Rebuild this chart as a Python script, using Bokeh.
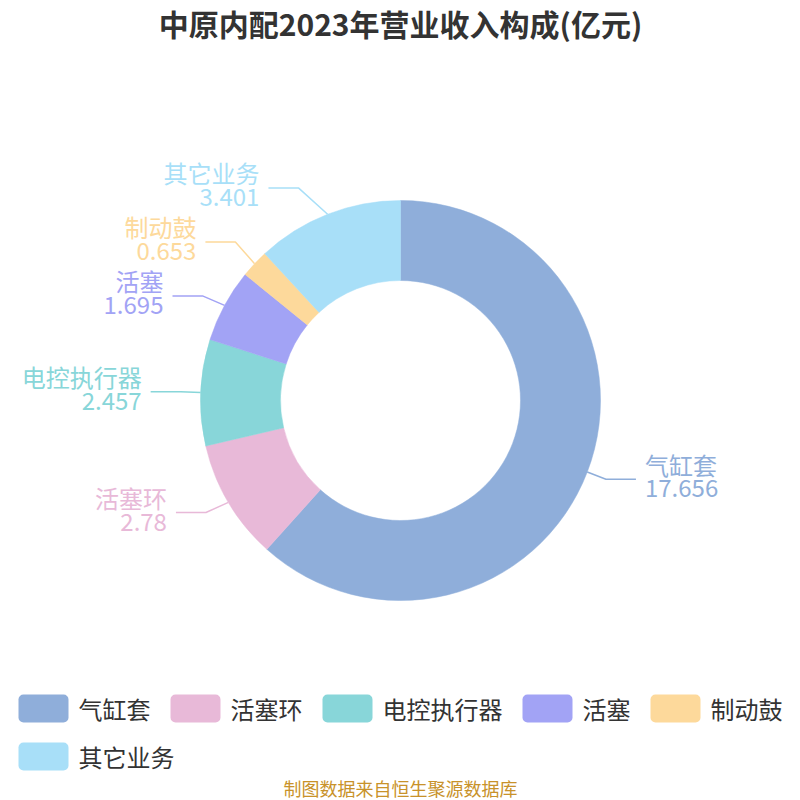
import math
from bokeh.plotting import figure
from bokeh.models import Range1d, BoxAnnotation, ColumnDataSource
from bokeh.core.properties import value
from bokeh.embed import file_html
from bokeh.resources import INLINE

# ---------------- data ----------------
categories = ["气缸套", "活塞环", "电控执行器", "活塞", "制动鼓", "其它业务"]
values = [17.656, 2.78, 2.457, 1.695, 0.653, 3.401]
value_labels = ["17.656", "2.78", "2.457", "1.695", "0.653", "3.401"]
colors = ["#8FAEDA", "#E8B9D8", "#88D6D9", "#A2A3F5", "#FDD99B", "#A8DFF8"]
title_text = "中原内配2023年营业收入构成(亿元)"
source_text = "制图数据来自恒生聚源数据库"

# ---------------- layout ----------------
PAGE = 800
W = H = 800
FONT = "Noto Sans CJK SC"


def Y(py):
    return PAGE - py


p = figure(width=W, height=H, x_range=Range1d(0, 800), y_range=Range1d(0, 800),
           output_backend="svg", toolbar_location=None, min_border=0)
p.axis.visible = False
p.grid.visible = False
p.outline_line_color = None
p.background_fill_color = "white"
p.border_fill_color = "white"

cx, cy = 400, 400
r_out, r_in = 200, 120
total = sum(values)
starts, ends, mids = [], [], []
cum = 0.0
for v in values:
    f0 = cum / total
    cum += v
    f1 = cum / total
    starts.append(math.pi / 2 - 2 * math.pi * f0)
    ends.append(math.pi / 2 - 2 * math.pi * f1)
    mids.append(math.pi / 2 - 2 * math.pi * (f0 + f1) / 2)

wsrc = ColumnDataSource(dict(start=starts, end=ends, color=colors, name=categories, val=values))
p.annular_wedge(x=cx, y=Y(cy), inner_radius=r_in, outer_radius=r_out,
                start_angle="start", end_angle="end", direction="clock",
                fill_color="color", line_color="color", line_width=0.5, source=wsrc)

# ---------------- labels ----------------
len1, len2, gap = 20, 30, 9
items = []
for i, a in enumerate(mids):
    ux, uy = math.cos(a), -math.sin(a)
    p1 = (cx + r_out * ux, cy + r_out * uy)
    p2 = [cx + (r_out + len1) * ux, cy + (r_out + len1) * uy]
    side = -1 if ux < 0 else 1
    items.append(dict(i=i, p1=p1, p2=p2, side=side))

min_sep = 54
rA, rB = r_out + len1, r_out + len1 + 20
for side in (-1, 1):
    group = sorted([it for it in items if it["side"] == side], key=lambda it: -it["p2"][1])
    shifted = False
    for k in range(1, len(group)):
        below = group[k - 1]["p2"][1]
        if group[k]["p2"][1] > below - min_sep:
            group[k]["p2"][1] = below - min_sep
            shifted = True
    if shifted:
        for it in group:
            dy = abs(it["p2"][1] - cy)
            dx = rA * math.sqrt(max(0.0, 1 - dy * dy / (rB * rB)))
            it["p2"][0] = cx + side * dx

lx, ly, lc = [], [], []
for it in items:
    x3 = it["p2"][0] + it["side"] * len2
    it["x3"] = x3
    lx.append([it["p1"][0], it["p2"][0], x3])
    ly.append([Y(it["p1"][1]), Y(it["p2"][1]), Y(it["p2"][1])])
    lc.append(colors[it["i"]])
p.multi_line(xs=lx, ys=ly, line_color=lc, line_width=1.5)

for side, align in ((-1, "right"), (1, "left")):
    grp = [it for it in items if it["side"] == side]
    if not grp:
        continue
    tx = [it["x3"] + side * gap for it in grp]
    ny = [Y(it["p2"][1] - 15) for it in grp]
    vy = [Y(it["p2"][1] + 9) for it in grp]
    cols = [colors[it["i"]] for it in grp]
    p.text(x=tx, y=ny, text=[categories[it["i"]] for it in grp], text_color=cols,
           text_font=value(FONT), text_font_size="24px", text_align=align, text_baseline="middle")
    p.text(x=tx, y=vy, text=[value_labels[it["i"]] for it in grp], text_color=cols,
           text_font=value(FONT), text_font_size="24px", text_align=align, text_baseline="middle")

# ---------------- title & source ----------------
p.text(x=[400], y=[Y(22)], text=[title_text], text_font=value(FONT), text_font_size="30px",
       text_font_style="bold", text_color="#333333", text_align="center", text_baseline="middle")
p.text(x=[400], y=[Y(787)], text=[source_text], text_font=value(FONT), text_font_size="18px",
       text_color="#C8922A", text_align="center", text_baseline="middle")

# ---------------- legend ----------------
sw_w, sw_h, sw_gap, item_gap, fs = 50, 28, 10, 20, 24
widths = [sw_w + sw_gap + fs * len(c) for c in categories]
rows, cur, cur_w = [], [], 0
max_w = 780
for i, w in enumerate(widths):
    add = w if not cur else w + item_gap
    if cur and cur_w + add > max_w:
        rows.append(cur)
        cur, cur_w = [i], w
    else:
        cur.append(i)
        cur_w += add
rows.append(cur)
first_w = sum(widths[i] for i in rows[0]) + item_gap * (len(rows[0]) - 1)
x_left = (PAGE - first_w) / 2
row_y0, row_step = 708, 48
tx, ty, tt = [], [], []
for r, row in enumerate(rows):
    x = x_left
    yc = row_y0 + r * row_step
    for i in row:
        p.add_layout(BoxAnnotation(left=x, right=x + sw_w, top=Y(yc - sw_h / 2), bottom=Y(yc + sw_h / 2),
                                   fill_color=colors[i], fill_alpha=1.0, line_color=None, border_radius=5,
                                   level="annotation"))
        tx.append(x + sw_w + sw_gap)
        ty.append(Y(yc))
        tt.append(categories[i])
        x += widths[i] + item_gap
p.text(x=tx, y=ty, text=tt, text_font=value(FONT), text_font_size="24px", text_color="#333333",
       text_align="left", text_baseline="middle")

open("out.html", "w").write(file_html(p, INLINE))
